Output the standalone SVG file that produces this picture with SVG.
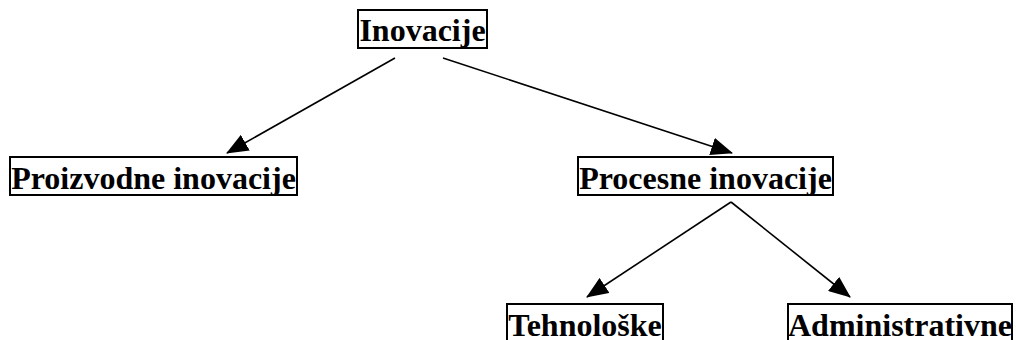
<svg xmlns="http://www.w3.org/2000/svg" width="1016" height="340" viewBox="0 0 1016 340">
<style>
.box{fill:#fff;stroke:#000;stroke-width:2}
.lbl{font-family:"Liberation Serif","Times New Roman",serif;font-weight:bold;font-size:32px;fill:#000;text-anchor:middle}
.conn{stroke:#000;stroke-width:1.6;fill:none;marker-end:url(#ah)}
</style>
<defs>
<marker id="ah" markerUnits="userSpaceOnUse" markerWidth="22" markerHeight="18" refX="21" refY="9" orient="auto">
<path d="M0,0 L22,9 L0,18 z" fill="#000"/>
</marker>
</defs>
<rect width="1016" height="340" fill="#fff"/>
<g id="connectors">
<line class="conn" x1="395" y1="58" x2="227" y2="153"/>
<line class="conn" x1="443" y1="58" x2="732" y2="153"/>
<line class="conn" x1="731" y1="202" x2="587" y2="297"/>
<line class="conn" x1="731" y1="202" x2="850" y2="297"/>
</g>
<g id="n-inovacije">
<rect class="box" x="358" y="10" width="129" height="38"/>
<text class="lbl" x="422.5" y="41">Inovacije</text>
</g>
<g id="n-proizvodne">
<rect class="box" x="10" y="157" width="287" height="38"/>
<text class="lbl" x="153.5" y="189">Proizvodne inovacije</text>
</g>
<g id="n-procesne">
<rect class="box" x="578" y="157" width="255" height="38"/>
<text class="lbl" x="705.5" y="189">Procesne inovacije</text>
</g>
<g id="n-tehnoloske">
<rect class="box" x="507" y="304" width="156" height="40"/>
<text class="lbl" x="585" y="336">Tehnološke</text>
</g>
<g id="n-administrativne">
<rect class="box" x="788" y="304" width="224" height="40"/>
<text class="lbl" x="900" y="336">Administrativne</text>
</g>
</svg>
